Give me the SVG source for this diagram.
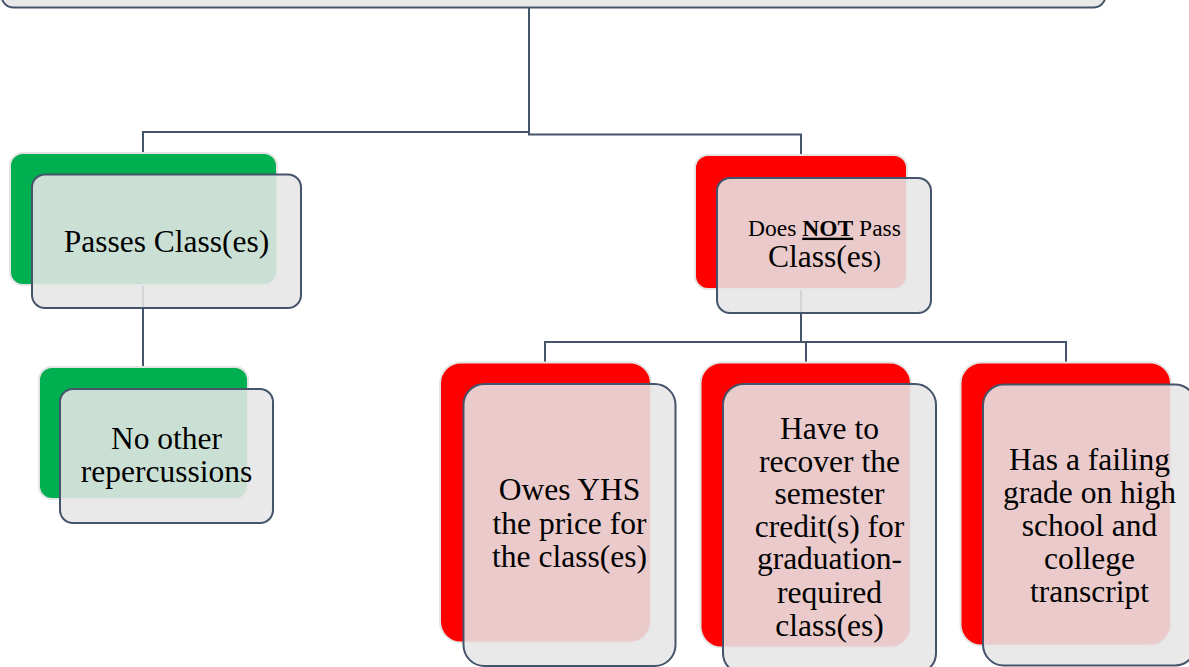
<svg xmlns="http://www.w3.org/2000/svg" width="1189" height="667" viewBox="0 0 1189 667">
<style>
.bg{fill:#ffffff}
.conn{fill:none;stroke:#44546a;stroke-width:2}
.green{fill:#00b050;stroke:#e4e4e4;stroke-width:2}
.red{fill:#ff0000;stroke:#e4e4e4;stroke-width:2}
.front{fill:#e7e6e6;fill-opacity:0.88;stroke:#44546a;stroke-width:2}
.t{font-family:"Liberation Serif","Times New Roman",serif;font-size:31.5px;fill:#000;text-anchor:middle}
.s{font-size:23.5px}
</style>
<rect class="bg" x="0" y="0" width="1189" height="667"/>
<g id="connectors">
<path class="conn" d="M529,8 V132 H143 V153"/>
<path class="conn" d="M529,8 V134.5 H801 V155"/>
<path class="conn" d="M143,285 V367"/>
<path class="conn" d="M801,289 V342 H545 V362"/>
<path class="conn" d="M801,289 V342 H806 V362"/>
<path class="conn" d="M801,289 V342 H1066 V362"/>
</g>
<g id="top">
<rect class="front" x="1.5" y="-60" width="1104" height="67.5" rx="12"/>
</g>
<g id="passes">
<rect class="green" x="10" y="153" width="267" height="132" rx="13"/>
<rect class="front" x="32" y="174.5" width="269" height="133.5" rx="13"/>
<text class="t" x="166.5" y="252">Passes Class(es)</text>
</g>
<g id="notpass">
<rect class="red" x="695" y="155" width="212" height="134" rx="13"/>
<rect class="front" x="717" y="178" width="214" height="135" rx="13"/>
<text class="t" x="824.5" y="235.7"><tspan class="s">Does </tspan><tspan class="s" font-weight="bold" text-decoration="underline">NOT</tspan><tspan class="s"> Pass</tspan></text>
<text class="t" x="824.5" y="266.7">Class(es<tspan class="s">)</tspan></text>
</g>
<g id="norep">
<rect class="green" x="39" y="367" width="209" height="132" rx="13"/>
<rect class="front" x="60" y="389" width="213" height="134" rx="13"/>
<text class="t" x="166.5" y="449">No other</text>
<text class="t" x="166.5" y="482">repercussions</text>
</g>
<g id="owes">
<rect class="red" x="440" y="362.5" width="211" height="280" rx="21"/>
<rect class="front" x="463.5" y="384" width="212" height="282" rx="21"/>
<text class="t" x="569.5" y="500">Owes YHS</text>
<text class="t" x="569.5" y="534">the price for</text>
<text class="t" x="569.5" y="567.3">the class(es)</text>
</g>
<g id="recover">
<rect class="red" x="700.5" y="362.5" width="210.5" height="285" rx="21"/>
<rect class="front" x="723" y="384" width="213" height="290" rx="21"/>
<text class="t" x="829.5" y="439">Have to</text>
<text class="t" x="829.5" y="471.7">recover the</text>
<text class="t" x="829.5" y="504">semester</text>
<text class="t" x="829.5" y="536.7">credit(s) for</text>
<text class="t" x="829.5" y="569.3">graduation-</text>
<text class="t" x="829.5" y="602.7">required</text>
<text class="t" x="829.5" y="636">class(es)</text>
</g>
<g id="failing">
<rect class="red" x="960.5" y="362.5" width="210.5" height="283" rx="21"/>
<rect class="front" x="983" y="384.5" width="213" height="281" rx="21"/>
<text class="t" x="1089.5" y="470">Has a failing</text>
<text class="t" x="1089.5" y="503.3">grade on high</text>
<text class="t" x="1089.5" y="536">school and</text>
<text class="t" x="1089.5" y="569.3">college</text>
<text class="t" x="1089.5" y="601.7">transcript</text>
</g>
</svg>
